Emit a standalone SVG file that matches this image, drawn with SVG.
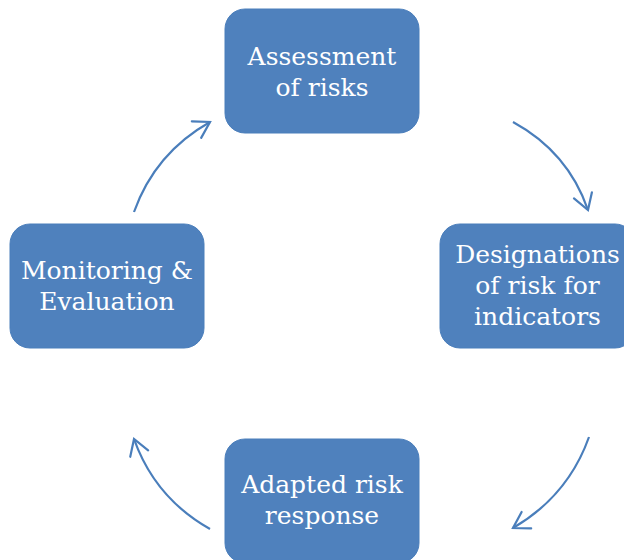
<svg xmlns="http://www.w3.org/2000/svg" width="624" height="560" viewBox="0 0 624 560">
<style>
.box{fill:#4F81BD;stroke:#4A7EBB;stroke-width:1}
.lbl{font-family:"DejaVu Serif","Liberation Serif",serif;font-size:25px;fill:#FFFFFF;text-anchor:middle}
.conn{fill:none;stroke:#4A7EBB;stroke-width:2.2;marker-end:url(#head)}
</style>
<defs>
<marker id="head" markerUnits="userSpaceOnUse" viewBox="-20 -12 23 24" refX="0" refY="0" markerWidth="23" markerHeight="24" orient="auto">
<path d="M-15.5,-9.5 L0,0 L-15.5,9.5" fill="none" stroke="#4A7EBB" stroke-width="2.2" stroke-linecap="round" stroke-linejoin="miter"/>
</marker>
</defs>
<rect width="624" height="560" fill="#FFFFFF"/>
<g id="connectors">
<path class="conn" d="M513,122 Q568,152 588,210"/>
<path class="conn" d="M589,437 Q568,496 513,528"/>
<path class="conn" d="M210,529 Q155,498 134,439"/>
<path class="conn" d="M134,212 Q155,153 210,122"/>
</g>
<g id="assessment">
<rect class="box" x="225" y="9" width="194" height="124" rx="20"/>
<text class="lbl" x="322" y="65">Assessment</text>
<text class="lbl" x="322" y="96">of risks</text>
</g>
<g id="designations">
<rect class="box" x="440" y="224" width="195" height="124" rx="20"/>
<text class="lbl" x="537.5" y="263">Designations</text>
<text class="lbl" x="537.5" y="294">of risk for</text>
<text class="lbl" x="537.5" y="325">indicators</text>
</g>
<g id="response">
<rect class="box" x="225" y="439" width="194" height="124" rx="20"/>
<text class="lbl" x="322" y="493">Adapted risk</text>
<text class="lbl" x="322" y="524">response</text>
</g>
<g id="monitoring">
<rect class="box" x="10" y="224" width="194" height="124" rx="20"/>
<text class="lbl" x="107" y="279">Monitoring &amp;</text>
<text class="lbl" x="107" y="310">Evaluation</text>
</g>
</svg>
